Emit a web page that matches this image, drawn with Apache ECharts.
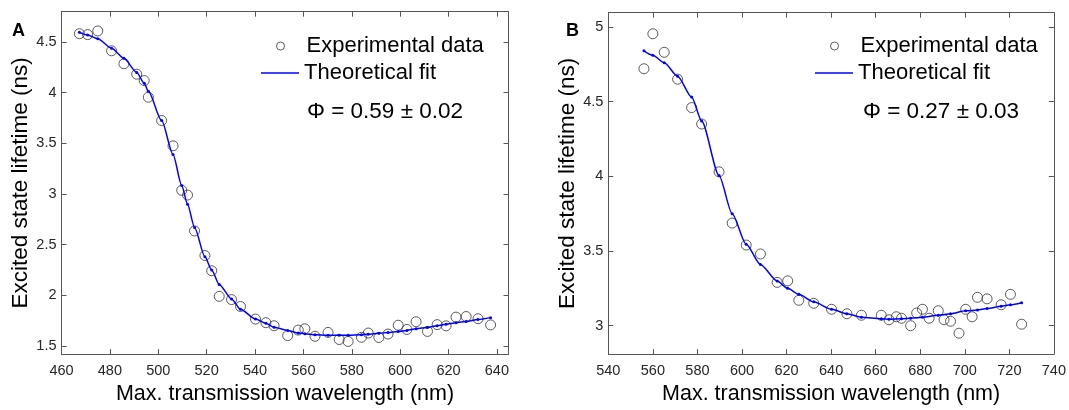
<!DOCTYPE html>
<html>
<head>
<meta charset="utf-8">
<script src="https://cdn.jsdelivr.net/npm/echarts@6/dist/echarts.min.js"></script>
<style>
html,body{margin:0;padding:0;background:#fff;}
#c{width:1069px;height:410px;}
</style>
</head>
<body>
<div id="c"></div>
<script>
// ---------- Panel A data ----------
const aWl   = [467.4,470.8,475.0,480.7,485.8,491.1,494.2,495.9,501.4,506.1,509.7,512.1,515.0,519.3,522.1,525.2,530.3,534.0,540.2,544.5,547.9,553.5,557.9,560.6,564.8,570.2,574.8,578.5,584.0,586.8,591.2,595.0,599.2,602.8,606.6,611.3,615.3,619.0,623.1,627.3,632.2,637.4];
const aLife = [4.583,4.574,4.61,4.414,4.286,4.183,4.12,3.956,3.726,3.476,3.037,2.99,2.636,2.393,2.243,1.99,1.958,1.89,1.766,1.73,1.70,1.603,1.657,1.67,1.596,1.634,1.564,1.545,1.586,1.628,1.584,1.618,1.705,1.663,1.74,1.644,1.711,1.699,1.785,1.791,1.769,1.708];
const aFitWl   = [467.4,470.8,475.0,480.7,485.8,491.1,494.2,495.9,501.4,506.1,509.7,512.1,515.0,519.3,522.1,525.2,530.3,534.0,540.2,544.5,547.9,553.5,557.9,560.6,564.8,570.2,574.8,578.5,584.0,586.8,591.2,595.0,599.2,602.8,606.6,611.3,615.3,619.0,623.1,627.3,632.2,637.4];
const aFitLife = [4.596,4.57,4.533,4.44,4.34,4.20,4.094,4.014,3.726,3.39,3.085,2.90,2.67,2.38,2.25,2.108,1.964,1.862,1.766,1.724,1.685,1.654,1.628,1.622,1.612,1.606,1.606,1.606,1.612,1.615,1.625,1.634,1.644,1.654,1.67,1.683,1.70,1.714,1.73,1.743,1.762,1.78];
const aXTicks = [460,480,500,520,540,560,580,600,620,640];
const aYTicks = [1.5,2,2.5,3,3.5,4,4.5];
const aPhi = 'Φ = 0.59 ± 0.02';

// ---------- Panel B data ----------
const bWl   = [556.0,560.0,565.1,571.1,577.4,581.9,589.7,595.6,601.9,608.3,615.8,620.5,625.5,632.2,640.2,647.1,653.6,662.5,666.0,669.3,671.6,675.7,678.4,681.0,684.0,688.1,690.7,693.6,697.4,700.4,703.3,705.7,710.0,716.3,720.5,725.5];
const bLife = [4.72,4.954,4.83,4.65,4.46,4.35,4.03,3.687,3.54,3.48,3.29,3.30,3.17,3.15,3.11,3.08,3.07,3.07,3.04,3.06,3.05,3.00,3.085,3.11,3.05,3.10,3.04,3.03,2.95,3.11,3.06,3.19,3.18,3.14,3.21,3.01];
const bFitWl   = [556.0,560.0,565.1,571.1,577.4,581.9,589.7,595.6,601.9,608.3,615.8,620.5,625.5,632.2,640.2,647.1,653.6,662.5,666.0,671.6,675.7,681.0,688.1,693.6,700.4,705.7,710.0,716.3,720.5,725.5];
const bFitLife = [4.84,4.81,4.76,4.67,4.53,4.37,4.005,3.75,3.545,3.41,3.30,3.25,3.21,3.16,3.11,3.08,3.056,3.046,3.044,3.046,3.05,3.056,3.07,3.08,3.10,3.105,3.115,3.13,3.14,3.154];
const bXTicks = [540,560,580,600,620,640,660,680,700,720,740];
const bYTicks = [3,3.5,4,4.5,5];
const bPhi = 'Φ = 0.27 ± 0.03';

const xName = 'Max. transmission wavelength (nm)';
const yName = 'Excited state lifetime (ns)';
const expName = 'Experimental data';
const fitName = 'Theoretical fit';

const FONT = 'Liberation Sans, Arial, sans-serif';
const AX = '#555555';
const TXT = '#262626';

function zip(xs, ys){ return xs.map((x,i)=>[x, ys[i]]); }

function xAxes(grid, min, max, ticks){
  return [
    {type:'value', gridIndex:grid, min:min, max:max, position:'bottom',
     name:xName, nameLocation:'middle', nameGap:24,
     nameTextStyle:{fontSize:21.5, color:'#000', fontFamily:FONT},
     axisLine:{show:true, lineStyle:{color:AX, width:1}},
     axisTick:{show:true, inside:true, length:5, customValues:ticks, lineStyle:{color:AX}},
     axisLabel:{show:true, customValues:ticks, fontSize:14.5, color:TXT, fontFamily:FONT, margin:9},
     splitLine:{show:false}},
    {type:'value', gridIndex:grid, min:min, max:max, position:'top',
     axisLine:{show:true, lineStyle:{color:AX, width:1}},
     axisTick:{show:true, inside:true, length:5, customValues:ticks, lineStyle:{color:AX}},
     axisLabel:{show:false}, splitLine:{show:false}}
  ];
}
function yAxes(grid, min, max, ticks, gap){
  return [
    {type:'value', gridIndex:grid, min:min, max:max, position:'left',
     name:yName, nameLocation:'middle', nameGap:gap,
     nameTextStyle:{fontSize:22.5, color:'#000', fontFamily:FONT},
     axisLine:{show:true, lineStyle:{color:AX, width:1}},
     axisTick:{show:true, inside:true, length:5, customValues:ticks, lineStyle:{color:AX}},
     axisLabel:{show:true, customValues:ticks, fontSize:14.5, color:TXT, fontFamily:FONT, margin:5},
     splitLine:{show:false}},
    {type:'value', gridIndex:grid, min:min, max:max, position:'right',
     axisLine:{show:true, lineStyle:{color:AX, width:1}},
     axisTick:{show:true, inside:true, length:5, customValues:ticks, lineStyle:{color:AX}},
     axisLabel:{show:false}, splitLine:{show:false}}
  ];
}

function scatterSeries(xi, yi, data){
  return {name:expName, type:'scatter', xAxisIndex:xi, yAxisIndex:yi, data:data,
    symbol:'circle', symbolSize:10, z:2,
    itemStyle:{color:'rgba(0,0,0,0)', borderColor:'#333333', borderWidth:1}};
}
function fitSeries(xi, yi, data){
  return {name:fitName, type:'line', xAxisIndex:xi, yAxisIndex:yi, data:data,
    symbol:'circle', symbolSize:3, showSymbol:true, z:3,
    smooth:0.25, smoothMonotone:'x',
    lineStyle:{color:'#0000ff', width:1.5}, itemStyle:{color:'#0000ff'}};
}

// lineLeft: left end of the fit legend line; circle centred on that line
function legends(lineLeft, top){
  return [
    {left:lineLeft + 15, top:top, padding:0, orient:'vertical', itemWidth:8, itemHeight:8,
     data:[{name:expName, icon:'circle'}],
     itemStyle:{color:'rgba(0,0,0,0)', borderColor:'#333333', borderWidth:1},
     textStyle:{fontSize:22, color:'#000', fontFamily:FONT, padding:[0,0,0,17]}, selectedMode:false},
    {left:lineLeft, top:top+27, padding:0, orient:'vertical', itemWidth:38, itemHeight:1.5,
     data:[{name:fitName, icon:'rect'}],
     itemStyle:{color:'#0000ff', borderWidth:0},
     textStyle:{fontSize:22, color:'#000', fontFamily:FONT}, selectedMode:false}
  ];
}

const chart = echarts.init(document.getElementById('c'), null, {renderer:'canvas'});
const option = {
  backgroundColor:'#fff',
  animation:false,
  textStyle:{fontFamily:FONT},
  title:[
    {text:'A', left:12, top:22, padding:0, textStyle:{fontSize:18, fontWeight:900, color:'#000', fontFamily:FONT}},
    {text:'B', left:566, top:22, padding:0, textStyle:{fontSize:18, fontWeight:900, color:'#000', fontFamily:FONT}},
    {text:aPhi, left:302, top:95, textStyle:{fontSize:22.5, fontWeight:'normal', color:'#000', fontFamily:FONT}},
    {text:bPhi, left:858, top:95, textStyle:{fontSize:22.5, fontWeight:'normal', color:'#000', fontFamily:FONT}}
  ],
  legend:[].concat(legends(261, 35), legends(815, 35)),
  grid:[
    {left:61.5, top:11.7, width:447, height:351.8, containLabel:false},
    {left:608.3, top:12.7, width:446.7, height:351, containLabel:false}
  ],
  xAxis:[].concat(xAxes(0, 460, 644.8, aXTicks), xAxes(1, 540, 740, bXTicks)),
  yAxis:[].concat(yAxes(0, 1.42, 4.8, aYTicks, 28), yAxes(1, 2.81, 5.095, bYTicks, 26)),
  series:[
    scatterSeries(0, 0, zip(aWl, aLife)),
    fitSeries(0, 0, zip(aFitWl, aFitLife)),
    scatterSeries(2, 2, zip(bWl, bLife)),
    fitSeries(2, 2, zip(bFitWl, bFitLife))
  ]
};
chart.setOption(option);
</script>
</body>
</html>
